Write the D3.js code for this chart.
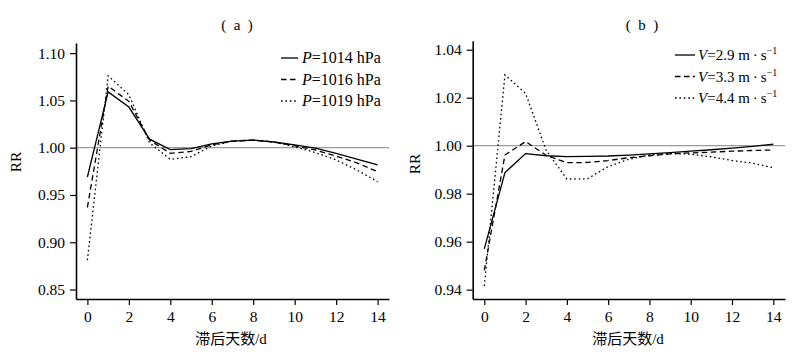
<!DOCTYPE html>
<html><head><meta charset="utf-8">
<script src="https://cdn.jsdelivr.net/npm/d3@7"></script>
<style>
body{margin:0;background:#fff;}
text{font-family:"Liberation Serif","Times New Roman","Noto Sans CJK SC",serif;fill:#000;}
.cjk{font-family:"Liberation Serif","Noto Sans CJK SC",serif;}
</style></head>
<body><svg id="c" width="800" height="358"></svg>
<script>
const days = [0,1,2,3,4,5,6,7,8,9,10,11,12,13,14];
const xTicks = [0,2,4,6,8,10,12,14];

// Panel (a): pressure
const ticksA = [0.85,0.90,0.95,1.00,1.05,1.10];
const p1014 = [0.969,1.059,1.043,1.009,0.998,0.999,1.004,1.007,1.008,1.006,1.003,0.9996,0.994,0.988,0.9817];
const p1016 = [0.937,1.065,1.049,1.008,0.994,0.996,1.003,1.007,1.008,1.006,1.002,0.9976,0.991,0.984,0.9746];
const p1019 = [0.881,1.076,1.056,1.005,0.9877,0.9905,1.002,1.007,1.008,1.006,1.001,0.9948,0.987,0.9764,0.964];
const labelsA = ["1014 hPa","1016 hPa","1019 hPa"];

// Panel (b): wind speed
const ticksB = [0.94,0.96,0.98,1.00,1.02,1.04];
const v29 = [0.957,0.9888,0.9967,0.9958,0.9954,0.9955,0.9957,0.9961,0.9966,0.9971,0.9977,0.9983,0.999,0.9997,1.0006];
const v33 = [0.948,0.9961,1.0017,0.996,0.9929,0.993,0.9938,0.995,0.9958,0.9966,0.997,0.9973,0.9977,0.998,0.9982];
const v44 = [0.9415,1.0295,1.0218,0.998,0.9861,0.9862,0.9913,0.9943,0.9961,0.9967,0.9965,0.9953,0.9938,0.9927,0.9908];
const labelsB = ["2.9 m\u2009\u00b7\u2009s","3.3 m\u2009\u00b7\u2009s","4.4 m\u2009\u00b7\u2009s"];

const dashes = [null,"5.5,3.5","1.6,2.8"];
const svg = d3.select("#c");

function panel(o){
  const g = svg.append("g");
  const x = d3.scaleLinear().domain(o.xd).range(o.xr);
  const y = d3.scaleLinear().domain(o.yd).range(o.yr);
  g.append("line").attr("x1",o.xr[0]).attr("x2",o.xr[1]).attr("y1",y(1)).attr("y2",y(1))
    .attr("stroke","#9a9a9a").attr("stroke-width",1.3);
  const xa = g.append("g").attr("transform",`translate(0,${o.yr[0]})`)
    .call(d3.axisBottom(x).tickValues(xTicks).tickSize(6).tickSizeOuter(0).tickPadding(6).tickFormat(d3.format("d")));
  const ya = g.append("g").attr("transform",`translate(${o.xr[0]},0)`)
    .call(d3.axisLeft(y).tickValues(o.yticks).tickSize(6).tickSizeOuter(0).tickPadding(5).tickFormat(d3.format(".2f")));
  [xa,ya].forEach(a=>{
    a.select(".domain").attr("stroke","#000").attr("stroke-width",1.6);
    a.selectAll(".tick line").attr("stroke","#000").attr("stroke-width",1.2);
    a.selectAll(".tick text").attr("font-size",15.5).attr("fill","#000")
      .style("font-family",'"Liberation Serif",serif');
  });
  const line = d3.line().x((d,i)=>x(days[i])).y(d=>y(d));
  o.series.forEach((s,i)=>{
    g.append("path").attr("d",line(s)).attr("fill","none").attr("stroke","#000")
      .attr("stroke-width",1.3).attr("stroke-dasharray",dashes[i]);
  });
  o.labels.forEach((lab,i)=>{
    const ly = o.leg.y + i*o.leg.dy;
    g.append("line").attr("x1",o.leg.x1).attr("x2",o.leg.x2).attr("y1",ly).attr("y2",ly)
      .attr("stroke","#000").attr("stroke-width",1.3).attr("stroke-dasharray",dashes[i]);
    const t = g.append("text").attr("x",o.leg.tx).attr("y",ly+5).attr("font-size",o.leg.fs);
    t.append("tspan").attr("font-style","italic").text(o.sym);
    t.append("tspan").text("="+lab);
    if(o.sup){ t.append("tspan").attr("font-size",10).attr("dy",-6).text("\u22121"); }
  });
  g.append("text").attr("x",o.title.x).attr("y",o.title.y).attr("text-anchor","middle")
    .attr("font-size",15).text("(\u2002" + o.title.t + "\u2002)");
  g.append("text").attr("transform",`translate(${o.rr.x},${o.rr.y}) rotate(-90)`)
    .attr("text-anchor","middle").attr("font-size",15.5).text("RR");
  g.append("text").attr("x",o.xl.x).attr("y",o.xl.y).attr("text-anchor","middle")
    .attr("font-size",15).attr("class","cjk").text("滞后天数/d");
}

panel({xd:[-0.55,14.55], xr:[76,389], yd:[0.84,1.1107], yr:[299,43], yticks:ticksA,
  series:[p1014,p1016,p1019], labels:labelsA, sym:"P", sup:false,
  leg:{x1:281,x2:298,tx:302,y:58,dy:21.5,fs:16},
  title:{x:237,y:30,t:"a"}, rr:{x:21,y:162}, xl:{x:231,y:344}});

panel({xd:[-0.562,14.567], xr:[472.7,785], yd:[0.9361,1.04375], yr:[299,40.7], yticks:ticksB,
  series:[v29,v33,v44], labels:labelsB, sym:"V", sup:true,
  leg:{x1:675,x2:695,tx:698,y:55,dy:21.5,fs:15},
  title:{x:642,y:30,t:"b"}, rr:{x:420,y:164}, xl:{x:628,y:344}});
</script></body></html>
